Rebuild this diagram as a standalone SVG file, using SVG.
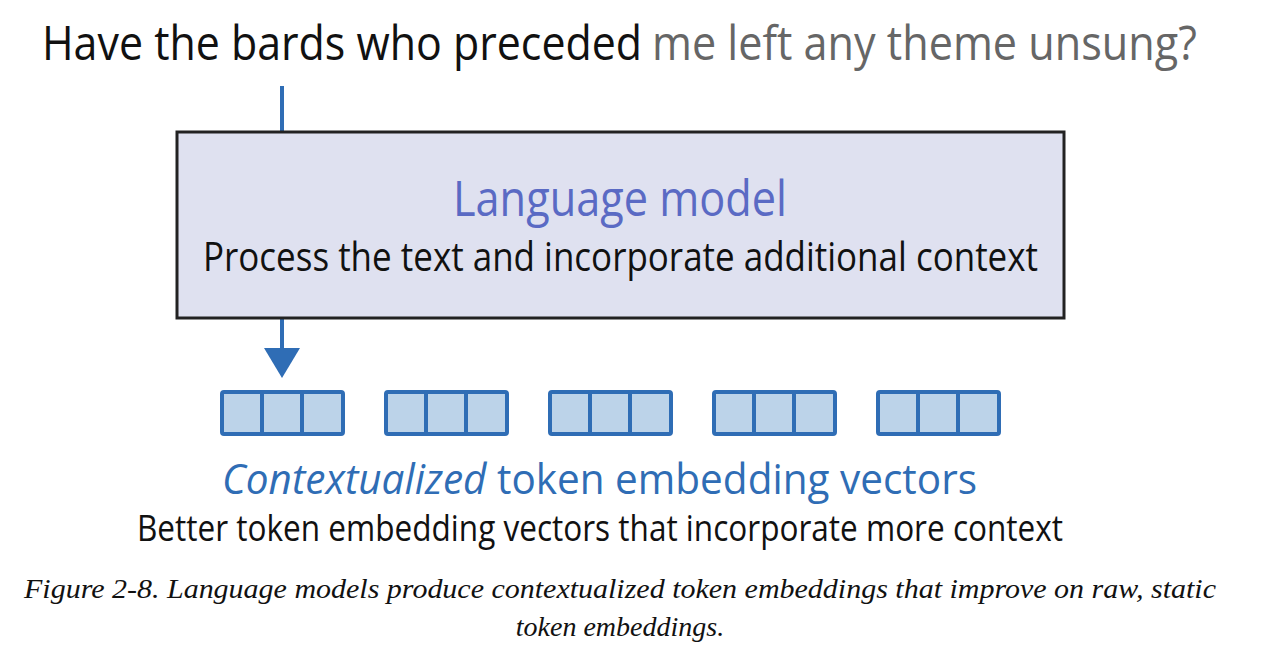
<svg xmlns="http://www.w3.org/2000/svg" width="1276" height="654" viewBox="0 0 1276 654">
<style>
.sans{font-family:"Open Sans","Noto Sans","Liberation Sans",sans-serif;}
.cap{font-family:"Liberation Serif","Times New Roman",serif;font-style:italic;font-size:28px;fill:#111;}
.vec{fill:#bcd3e9;stroke:#2f6db5;stroke-width:4;}
.div{stroke:#2f6db5;stroke-width:4;}
.conn{stroke:#2f6db5;stroke-width:4;fill:none;}
</style>
<rect width="1276" height="654" fill="#ffffff"/>
<g id="title" transform="scale(0.85,1)">
<text class="sans" x="49.4" y="60" font-size="48" fill="#111" textLength="706" lengthAdjust="spacingAndGlyphs">Have the bards who preceded</text>
<text class="sans" x="767" y="60" font-size="48" fill="#666" textLength="641" lengthAdjust="spacingAndGlyphs">me left any theme unsung?</text>
</g>
<g id="connectors">
<line class="conn" x1="282" y1="86" x2="282" y2="132"/>
<line class="conn" x1="282" y1="318" x2="282" y2="352"/>
<polygon points="264,348 300,348 282,378" fill="#2f6db5"/>
</g>
<g id="language-model">
<rect x="177" y="132" width="887" height="186" fill="#dfe1f0" stroke="#222" stroke-width="3"/>
<text class="sans" x="453" y="216" font-size="50" fill="#5a6ac4" textLength="334" lengthAdjust="spacingAndGlyphs">Language model</text>
<text class="sans" x="203" y="271" font-size="40" fill="#111" textLength="835" lengthAdjust="spacingAndGlyphs">Process the text and incorporate additional context</text>
</g>
<g id="vectors">
<g id="vec1"><rect class="vec" x="222" y="392" width="121" height="42" rx="2"/><line class="div" x1="262" y1="392" x2="262" y2="434"/><line class="div" x1="302" y1="392" x2="302" y2="434"/></g>
<g id="vec2"><rect class="vec" x="386" y="392" width="121" height="42" rx="2"/><line class="div" x1="426" y1="392" x2="426" y2="434"/><line class="div" x1="466" y1="392" x2="466" y2="434"/></g>
<g id="vec3"><rect class="vec" x="550" y="392" width="121" height="42" rx="2"/><line class="div" x1="590" y1="392" x2="590" y2="434"/><line class="div" x1="630" y1="392" x2="630" y2="434"/></g>
<g id="vec4"><rect class="vec" x="714" y="392" width="121" height="42" rx="2"/><line class="div" x1="754" y1="392" x2="754" y2="434"/><line class="div" x1="794" y1="392" x2="794" y2="434"/></g>
<g id="vec5"><rect class="vec" x="878" y="392" width="121" height="42" rx="2"/><line class="div" x1="918" y1="392" x2="918" y2="434"/><line class="div" x1="958" y1="392" x2="958" y2="434"/></g>
</g>
<g id="output-label">
<text class="sans" x="222" y="494" font-size="42" fill="#2f6db5" textLength="755" lengthAdjust="spacingAndGlyphs"><tspan font-style="italic">Contextualized</tspan> token embedding vectors</text>
<text class="sans" x="137" y="541" font-size="37" fill="#111" textLength="926" lengthAdjust="spacingAndGlyphs">Better token embedding vectors that incorporate more context</text>
</g>
<g id="caption">
<text class="cap" x="24" y="598" textLength="1192" lengthAdjust="spacingAndGlyphs">Figure 2-8. Language models produce contextualized token embeddings that improve on raw, static</text>
<text class="cap" x="620" y="636" text-anchor="middle">token embeddings.</text>
</g>
</svg>
